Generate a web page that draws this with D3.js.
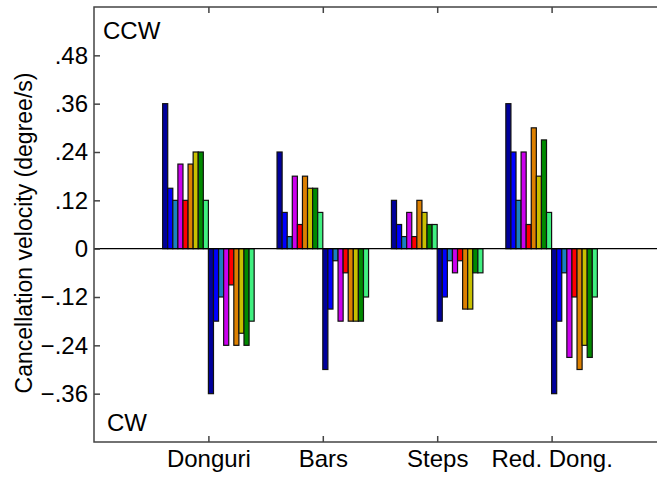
<!DOCTYPE html>
<html>
<head>
<meta charset="utf-8">
<script src="https://cdn.jsdelivr.net/npm/d3@7"></script>
<style>
  body { margin: 0; background: #fff; }
  svg text { font-family: Arial, "Liberation Sans", sans-serif; fill: #000; }
</style>
</head>
<body>
<svg id="chart" width="657" height="477"></svg>
<script>
// categories and the 9 conditions per category (CCW = positive, CW = negative)
const categories = ['Donguri', 'Bars', 'Steps', 'Red. Dong.'];
const ccwValues = [
  [0.36, 0.15, 0.12, 0.21, 0.12, 0.21, 0.24, 0.24, 0.12],
  [0.24, 0.09, 0.03, 0.18, 0.06, 0.18, 0.15, 0.15, 0.09],
  [0.12, 0.06, 0.03, 0.09, 0.03, 0.12, 0.09, 0.06, 0.06],
  [0.36, 0.24, 0.12, 0.24, 0.06, 0.30, 0.18, 0.27, 0.09]
];
const cwValues = [
  [-0.36, -0.18, -0.12, -0.24, -0.09, -0.24, -0.21, -0.24, -0.18],
  [-0.30, -0.15, -0.03, -0.18, -0.06, -0.18, -0.18, -0.18, -0.12],
  [-0.18, -0.12, -0.03, -0.06, -0.03, -0.15, -0.15, -0.06, -0.06],
  [-0.36, -0.18, -0.06, -0.27, -0.12, -0.30, -0.24, -0.27, -0.12]
];
const seriesColors = ['#00009c', '#0000ff', '#1a80c0', '#cc00ee', '#ff0000',
                      '#dd8000', '#c8c000', '#008a00', '#40f080'];
const yTicks = [0.48, 0.36, 0.24, 0.12, 0, -0.12, -0.24, -0.36];

const margin = {left: 94, top: 7, bottom: 442};
const svg = d3.select('#chart');

// x in group units (1..4), axes box runs past the right edge of the window
const x = d3.scaleLinear().domain([0, 5]).range([94, 666]);
const y = d3.scaleLinear().domain([-0.48, 0.6]).range([margin.bottom, margin.top]);

// flatten: 18 bars per group, 9 CCW then 9 CW
let bars = [];
categories.forEach((c, i) => {
  const vals = ccwValues[i].concat(cwValues[i]);
  vals.forEach((v, j) => {
    bars.push({group: i + 1, idx: j, value: v, color: seriesColors[j % 9]});
  });
});

const groupWidth = 0.8, nSeries = 18;
const barW = groupWidth / nSeries;

svg.append('g')
  .selectAll('rect')
  .data(bars)
  .join('rect')
  .attr('x', d => x(d.group - groupWidth / 2 + d.idx * barW))
  .attr('width', x(barW) - x(0))
  .attr('y', d => y(Math.max(0, d.value)))
  .attr('height', d => Math.abs(y(d.value) - y(0)))
  .attr('fill', d => d.color)
  .attr('stroke', '#111')
  .attr('stroke-width', 1.2);

// zero line
svg.append('line')
  .attr('x1', margin.left).attr('x2', 657)
  .attr('y1', y(0)).attr('y2', y(0))
  .attr('stroke', '#000').attr('stroke-width', 1.2);

// frame
svg.append('path')
  .attr('d', `M657,${margin.top}H${margin.left}V${margin.bottom}H657`)
  .attr('fill', 'none').attr('stroke', '#444').attr('stroke-width', 1.5);

const fmt = d => d === 0 ? '0' : d3.format('.2f')(d).replace('0.', '.');

const yAxis = d3.axisLeft(y).tickValues(yTicks).tickFormat(fmt).tickSize(-6).tickPadding(6);
const yAxisG = svg.append('g')
  .attr('transform', `translate(${margin.left},0)`)
  .call(yAxis);

const xAxis = d3.axisBottom(x).tickValues([1, 2, 3, 4])
  .tickFormat(d => categories[d - 1]).tickSize(-6).tickPadding(8);
const xAxisG = svg.append('g')
  .attr('transform', `translate(0,${margin.bottom})`)
  .call(xAxis);

const topAxis = d3.axisTop(x).tickValues([1, 2, 3, 4]).tickFormat('').tickSize(-6);
const topAxisG = svg.append('g')
  .attr('transform', `translate(0,${margin.top})`)
  .call(topAxis);

[yAxisG, xAxisG, topAxisG].forEach(g => {
  g.select('.domain').remove();
  g.selectAll('.tick line').attr('stroke', '#444').attr('stroke-width', 1.5);
  g.selectAll('.tick text').attr('font-size', 24).attr('font-family', 'Arial, "Liberation Sans", sans-serif');
});

// y label
svg.append('text')
  .attr('transform', `translate(32,233) rotate(-90)`)
  .attr('text-anchor', 'middle')
  .attr('font-size', 23)
  .text('Cancellation velocity (degree/s)');

svg.append('text').attr('x', 103).attr('y', 39).attr('font-size', 24).text('CCW');
svg.append('text').attr('x', 107).attr('y', 431).attr('font-size', 24).text('CW');
</script>
</body>
</html>
